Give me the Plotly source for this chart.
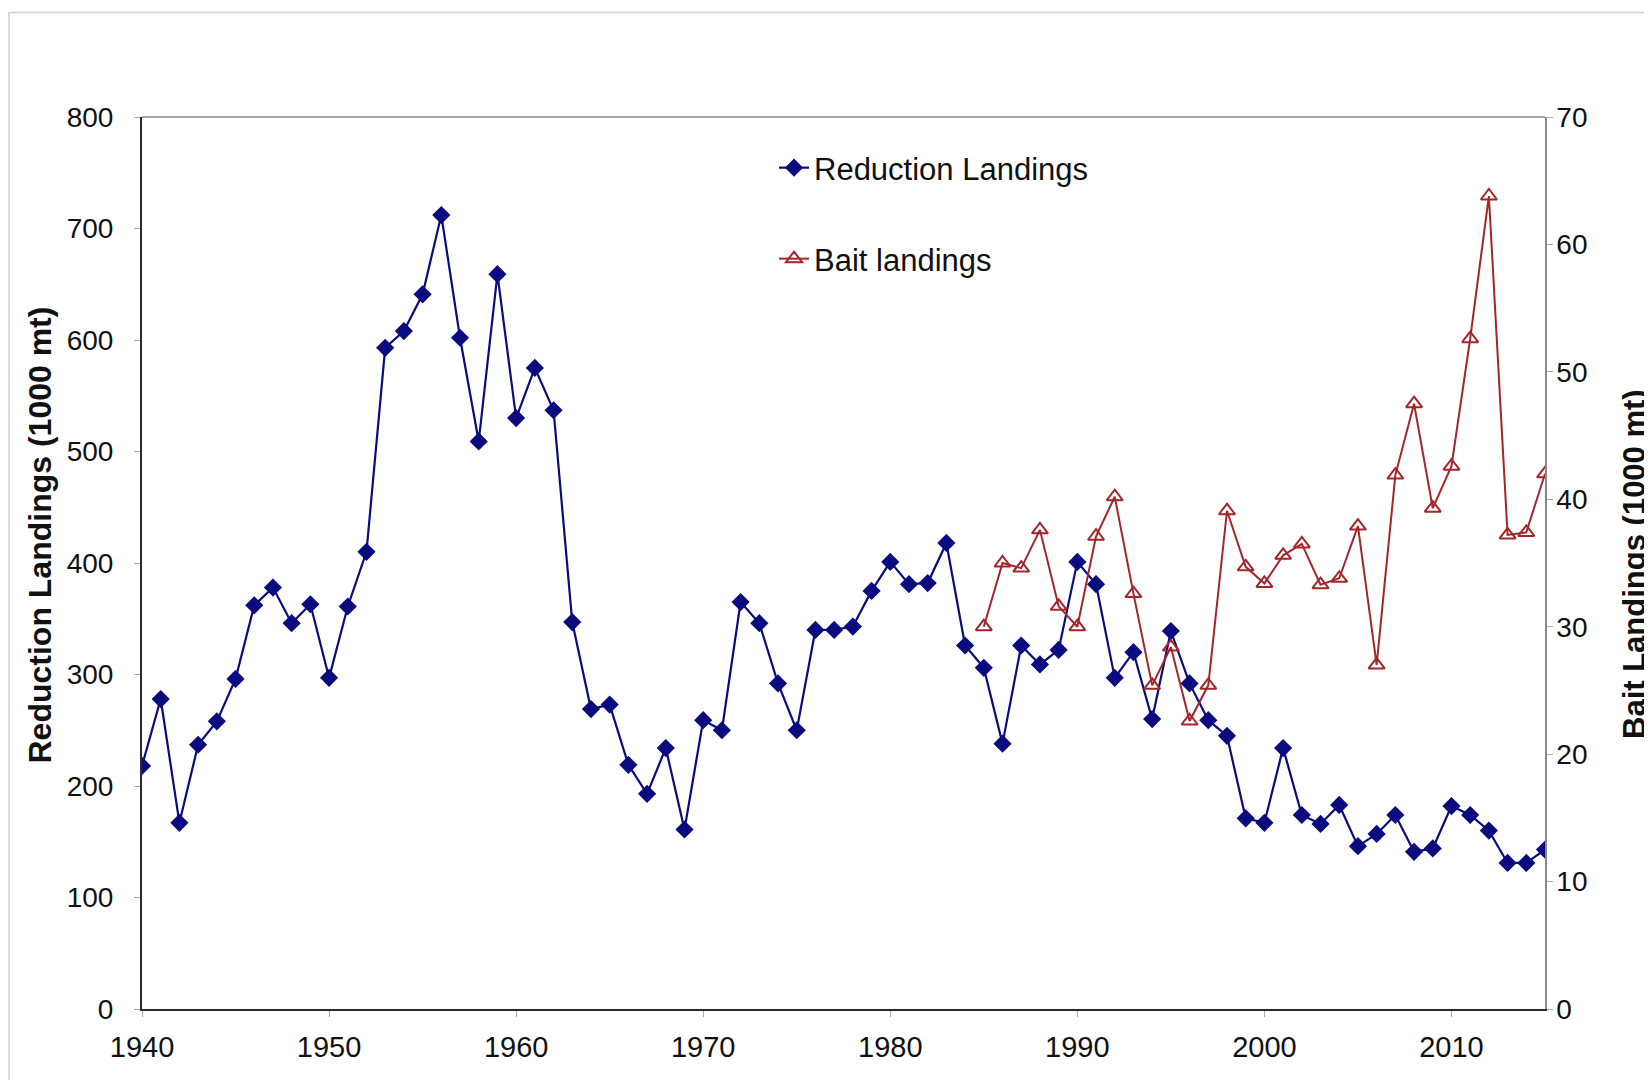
import plotly.graph_objects as go

years_red = list(range(1940, 2016))
reduction = [218, 278, 167, 237, 258, 296, 362, 378, 346, 363,
             297, 361, 410, 593, 608, 641, 712, 602, 509, 659,
             530, 575, 537, 347, 269, 273, 219, 193, 234, 161,
             259, 250, 365, 346, 292, 250, 340, 340, 343, 375,
             401, 381, 382, 418, 326, 306, 238, 326, 309, 322,
             401, 381, 297, 320, 260, 339, 292, 259, 245, 171,
             167, 234, 174, 166, 183, 146, 157, 174, 141, 144,
             182, 174, 160, 131, 131, 143]

years_bait = list(range(1985, 2016))
bait = [30.0, 35.0, 34.6, 37.6, 31.6, 30.0, 37.1, 40.2, 32.6, 25.4,
        28.4, 22.6, 25.4, 39.1, 34.7, 33.4, 35.6, 36.5, 33.3, 33.8,
        37.9, 27.0, 41.9, 47.5, 39.3, 42.6, 52.6, 63.8, 37.2, 37.4, 42.0]

x_ticks = [1940, 1950, 1960, 1970, 1980, 1990, 2000, 2010]
y1_ticks = [0, 100, 200, 300, 400, 500, 600, 700, 800]
y2_ticks = [0, 10, 20, 30, 40, 50, 60, 70]

BLUE = "#0b0b80"
RED = "#a3262a"
FONT = "Liberation Sans, Arial, sans-serif"
TXT = "#111111"

fig = go.Figure()
fig.add_trace(go.Scatter(
    x=years_red, y=reduction, mode="lines+markers", name="Reduction Landings",
    line=dict(color=BLUE, width=2.2),
    marker=dict(symbol="diamond", size=14, color=BLUE, line=dict(width=0)),
    legend="legend",
))
fig.add_trace(go.Scatter(
    x=years_bait, y=bait, mode="lines+markers", name="Bait landings",
    yaxis="y2",
    line=dict(color=RED, width=2),
    marker=dict(symbol="triangle-up-open", size=14, color=RED, line=dict(width=2, color=RED)),
    legend="legend2",
))

# figure sits at page offset (8, 8)
W, H = 1644, 1072
L, R, T, B = 134, 107, 109, 71
pw, ph = W - L - R, H - T - B

def px(x):
    return (x - L) / pw

def py(y):
    return (H - B - y) / ph

fig.update_layout(
    width=W, height=H,
    margin=dict(l=L, r=R, t=T, b=B),
    paper_bgcolor="white", plot_bgcolor="white",
    font=dict(family=FONT, size=28, color=TXT),
    showlegend=True,
    xaxis=dict(
        range=[1940, 2015], tickmode="array", tickvals=x_ticks,
        ticktext=[str(v) for v in x_ticks],
        showgrid=False, zeroline=False,
        showline=True, linecolor="#2a2a2a", linewidth=2,
        ticks="outside", ticklen=6, tickcolor="#aaaaaa", tickwidth=1,
        ticklabelstandoff=5,
        tickfont=dict(size=29, color=TXT),
    ),
    yaxis=dict(
        range=[0, 800], tickmode="array", tickvals=y1_ticks,
        showgrid=False, zeroline=False,
        showline=True, linecolor="#2a2a2a", linewidth=2,
        ticks="outside", ticklen=6, tickcolor="#aaaaaa", tickwidth=1,
        ticklabelstandoff=15,
        tickfont=dict(size=28, color=TXT),
    ),
    yaxis2=dict(
        range=[0, 70], tickmode="array", tickvals=y2_ticks,
        overlaying="y", side="right",
        showgrid=False, zeroline=False,
        showline=True, linecolor="#888888", linewidth=1.5,
        ticks="outside", ticklen=6, tickcolor="#aaaaaa", tickwidth=1,
        ticklabelstandoff=-2,
        tickfont=dict(size=28, color=TXT),
    ),
    legend=dict(
        x=px(766), y=py(160), xanchor="left", yanchor="middle",
        bgcolor="rgba(0,0,0,0)", borderwidth=0,
        font=dict(size=31, color=TXT),
    ),
    legend2=dict(
        x=px(766), y=py(251), xanchor="left", yanchor="middle",
        bgcolor="rgba(0,0,0,0)", borderwidth=0,
        font=dict(size=31, color=TXT),
    ),
    annotations=[
        dict(text="<b>Reduction Landings (1000 mt)</b>", textangle=-90,
             xref="paper", yref="paper", x=px(31.5), y=py(527),
             xanchor="center", yanchor="middle", showarrow=False,
             font=dict(size=32, color=TXT)),
        dict(text="<b>Bait Landings (1000 mt)</b>", textangle=-90,
             xref="paper", yref="paper", x=px(1626), y=py(556),
             xanchor="center", yanchor="middle", showarrow=False,
             font=dict(size=31, color=TXT)),
    ],
    shapes=[
        dict(type="line", xref="paper", yref="paper", x0=0, x1=1, y0=1, y1=1,
             line=dict(color="#888888", width=1.5)),
        dict(type="rect", xref="paper", yref="paper",
             x0=px(1), x1=px(W + 20), y0=py(H + 20), y1=py(4.5),
             line=dict(color="#d0d0d0", width=1.5), layer="below"),
    ],
)

fig.write_html("out.html")
